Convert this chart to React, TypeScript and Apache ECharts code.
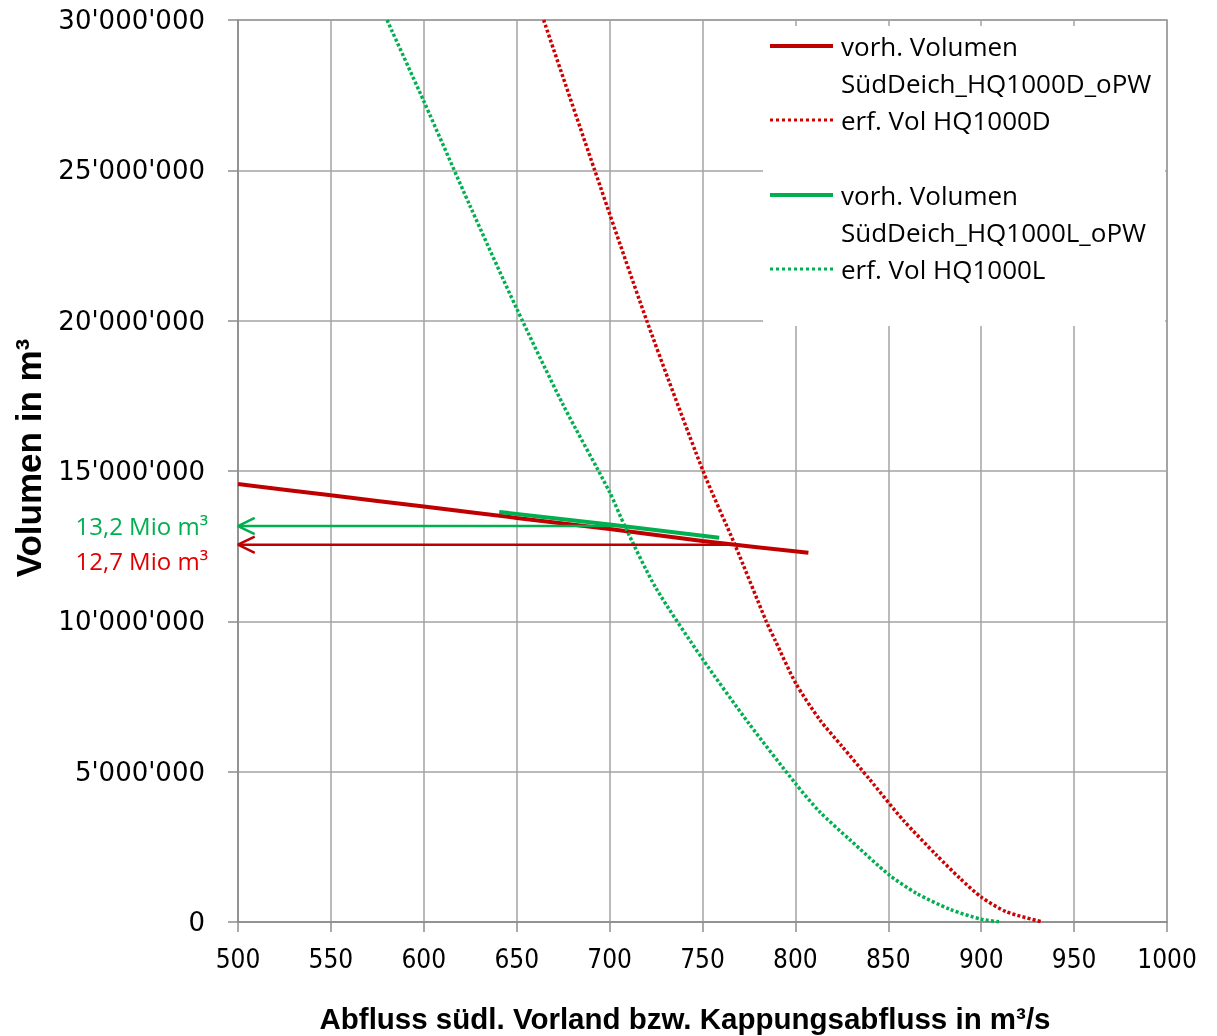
import React, { useEffect, useRef } from "react";
import * as echarts from "echarts";

// ---- Data (x: Abfluss in m³/s, y: Volumen in Mio m³) ----
const redVorhX = [500, 550, 600, 650, 700, 750, 807];
const redVorhY = [14.57, 14.19, 13.82, 13.44, 13.07, 12.67, 12.28];

const redErfX = [664.5, 692, 720, 750.3, 767.5, 784.3, 789, 800.2, 813.2, 825, 840, 858, 876, 888.6, 900.2, 913.6, 933];
const redErfY = [30, 25, 20, 15, 12.54, 10, 9.38, 7.94, 6.72, 5.85, 4.74, 3.39, 2.22, 1.45, 0.82, 0.34, 0];

const greenVorhX = [640.6, 700, 759];
const greenVorhY = [13.64, 13.22, 12.78];

const greenErfX = [580.2, 600, 625, 650, 675, 700, 708.3, 725, 750, 775, 800, 813, 829.4, 850.6, 865.3, 883.2, 900.2, 910.9];
const greenErfY = [30, 27.3, 23.8, 20.4, 17.2, 14.3, 13.15, 11.1, 8.75, 6.6, 4.61, 3.67, 2.73, 1.56, 0.95, 0.42, 0.09, 0];

// arrows: [start x, level in Mio m³]
const greenArrow = { fromX: 708.3, level: 13.17, label: "13,2 Mio m³" };
const redArrow = { fromX: 767.5, level: 12.55, label: "12,7 Mio m³" };

const xTickMin = 500;
const xTickMax = 1000;
const xTickStep = 50;
const yTickMin = 0;
const yTickMax = 30000000;
const yTickStep = 5000000;

const legendNames = [
  ["vorh. Volumen", "SüdDeich_HQ1000D_oPW"],
  ["erf. Vol HQ1000D"],
  ["vorh. Volumen", "SüdDeich_HQ1000L_oPW"],
  ["erf. Vol HQ1000L"],
];

const RED = "#C00000";
const RED_DOT = "#D00000";
const GREEN = "#00B050";
const LABEL_RED = "#E00000";
const GRID = "#a3a3a3";
const AXIS = "#8c8c8c";

const toPairs = (xs: number[], ys: number[]) => xs.map((x, i) => [x, ys[i] * 1e6]);

const fmtY = (v: number) => String(Math.round(v)).replace(/\B(?=(\d{3})+(?!\d))/g, "'");

export default function App() {
  const ref = useRef<HTMLDivElement>(null);
  useEffect(() => {
    if (!ref.current) return;
    const chart = echarts.init(ref.current, undefined, { renderer: "svg" });

    const arrowHead = (lvl: number) => [
      [509, lvl * 1e6 + 270000],
      [500, lvl * 1e6],
      [509, lvl * 1e6 - 270000],
    ];

    const legendFont = "'Open Sans', 'DejaVu Sans', sans-serif";
    const legendX = 841;
    const lineX1 = 770;
    const lineX2 = 833;
    const legendGraphic: any[] = [
      { type: "rect", z: 100, shape: { x: 763, y: 26, width: 402, height: 300 }, style: { fill: "#fff" } },
      { type: "line", z: 101, shape: { x1: lineX1, y1: 46, x2: lineX2, y2: 46 }, style: { stroke: RED, lineWidth: 4 } },
      { type: "line", z: 101, shape: { x1: lineX1, y1: 120, x2: lineX2, y2: 120 }, style: { stroke: RED_DOT, lineWidth: 3, lineDash: [3, 3] } },
      { type: "line", z: 101, shape: { x1: lineX1, y1: 195, x2: lineX2, y2: 195 }, style: { stroke: GREEN, lineWidth: 4 } },
      { type: "line", z: 101, shape: { x1: lineX1, y1: 269, x2: lineX2, y2: 269 }, style: { stroke: GREEN, lineWidth: 3, lineDash: [3, 3] } },
    ];
    const textRows: [string, number][] = [
      [legendNames[0][0], 46],
      [legendNames[0][1], 83],
      [legendNames[1][0], 120],
      [legendNames[2][0], 195],
      [legendNames[2][1], 232],
      [legendNames[3][0], 269],
    ];
    textRows.forEach(([t, y]) => {
      legendGraphic.push({
        type: "text",
        z: 101,
        x: legendX,
        y,
        style: { text: t, fill: "#000", font: `26px ${legendFont}`, textAlign: "left", textVerticalAlign: "middle" },
      });
    });

    const option: any = {
      animation: false,
      grid: { left: 238, right: 50, top: 20, bottom: 114, show: true, borderColor: AXIS, borderWidth: 1.5, backgroundColor: "transparent" },
      xAxis: {
        type: "value",
        min: xTickMin,
        max: xTickMax,
        interval: xTickStep,
        axisLine: { show: true, lineStyle: { color: AXIS, width: 1.5 } },
        axisTick: { show: true, length: 10, lineStyle: { color: AXIS, width: 1.5 } },
        axisLabel: {
          margin: 24,
          fontSize: 26,
          color: "#000",
          fontFamily: "'DejaVu Sans Condensed', 'Liberation Sans', sans-serif",
          formatter: (v: number) => String(v),
        },
        splitLine: { show: true, lineStyle: { color: GRID, width: 1.5 } },
      },
      yAxis: {
        type: "value",
        min: yTickMin,
        max: yTickMax,
        interval: yTickStep,
        axisLine: { show: true, lineStyle: { color: AXIS, width: 1.5 } },
        axisTick: { show: true, length: 10, lineStyle: { color: AXIS, width: 1.5 } },
        axisLabel: { margin: 33, fontSize: 26, color: "#000", fontFamily: "'DejaVu Sans', sans-serif", formatter: fmtY },
        splitLine: { show: true, lineStyle: { color: GRID, width: 1.5 } },
      },
      series: [
        {
          name: legendNames[0].join(" "),
          type: "line",
          data: toPairs(redVorhX, redVorhY),
          showSymbol: false,
          smooth: 0.3,
          lineStyle: { color: RED, width: 4 },
          z: 2,
        },
        {
          name: legendNames[1][0],
          type: "line",
          data: toPairs(redErfX, redErfY),
          showSymbol: false,
          smooth: 0.25,
          lineStyle: { color: RED_DOT, width: 3.5, type: [3, 2.2] },
          z: 3,
        },
        {
          name: legendNames[2].join(" "),
          type: "line",
          data: toPairs(greenVorhX, greenVorhY),
          showSymbol: false,
          lineStyle: { color: GREEN, width: 4 },
          z: 4,
        },
        {
          name: legendNames[3][0],
          type: "line",
          data: toPairs(greenErfX, greenErfY),
          showSymbol: false,
          smooth: 0.25,
          lineStyle: { color: GREEN, width: 3.5, type: [3, 2.2] },
          z: 5,
        },
        {
          name: "arrowGreen",
          type: "line",
          data: [[greenArrow.fromX, greenArrow.level * 1e6], [500, greenArrow.level * 1e6]],
          showSymbol: false,
          lineStyle: { color: GREEN, width: 2.5 },
          z: 6,
        },
        {
          name: "arrowGreenHead",
          type: "line",
          data: arrowHead(greenArrow.level),
          showSymbol: false,
          lineStyle: { color: GREEN, width: 2.5 },
          z: 6,
        },
        {
          name: "arrowRed",
          type: "line",
          data: [[redArrow.fromX, redArrow.level * 1e6], [500, redArrow.level * 1e6]],
          showSymbol: false,
          lineStyle: { color: RED, width: 2.5 },
          z: 6,
        },
        {
          name: "arrowRedHead",
          type: "line",
          data: arrowHead(redArrow.level),
          showSymbol: false,
          lineStyle: { color: RED, width: 2.5 },
          z: 6,
        },
      ],
      graphic: [
        ...legendGraphic,
        {
          type: "text",
          z: 101,
          x: 208,
          y: 525,
          style: { text: greenArrow.label, fill: GREEN, font: `24px ${legendFont}`, textAlign: "right", textVerticalAlign: "middle" },
        },
        {
          type: "text",
          z: 101,
          x: 208,
          y: 560,
          style: { text: redArrow.label, fill: LABEL_RED, font: `24px ${legendFont}`, textAlign: "right", textVerticalAlign: "middle" },
        },
        {
          type: "text",
          z: 101,
          x: 685,
          y: 1018,
          style: {
            text: "Abfluss südl. Vorland bzw. Kappungsabfluss in m³/s",
            fill: "#000",
            font: "bold 29.5px 'Liberation Sans', Arial, sans-serif",
            textAlign: "center",
            textVerticalAlign: "middle",
          },
        },
        {
          type: "text",
          z: 101,
          x: 28,
          y: 458,
          rotation: Math.PI / 2,
          style: {
            text: "Volumen in m³",
            fill: "#000",
            font: "bold 35px 'Liberation Sans', Arial, sans-serif",
            textAlign: "center",
            textVerticalAlign: "middle",
          },
        },
      ],
    };
    chart.setOption(option);
    return () => chart.dispose();
  }, []);
  return <div ref={ref} style={{ position: "fixed", left: 0, top: 0, width: 1217, height: 1036 }} />;
}
